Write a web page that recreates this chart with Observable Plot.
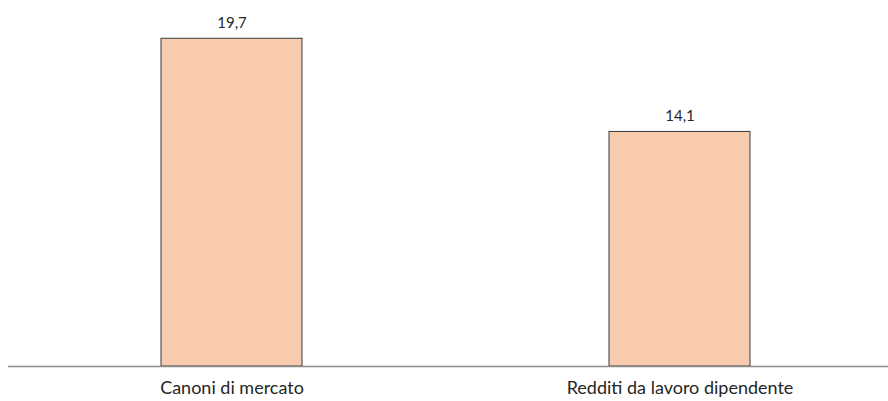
<!DOCTYPE html>
<html><head><meta charset="utf-8">
<script src="https://cdn.jsdelivr.net/npm/d3@7"></script>
<script src="https://cdn.jsdelivr.net/npm/@observablehq/plot@0.6"></script>
<style>body{margin:0;background:#fff}</style>
</head><body><div id="chart"></div>
<script>
const categories = ["Canoni di mercato", "Redditi da lavoro dipendente"];
const values = [19.7, 14.1];
const labels = ["19,7", "14,1"];
const data = categories.map((c, i) => ({cat: c, v: values[i], label: labels[i]}));
const font = "Lato, 'Open Sans', sans-serif";
const chart = Plot.plot({
  width: 888, height: 401,
  marginTop: 0, marginBottom: 35, marginLeft: 8, marginRight: 0,
  style: {fontFamily: font, background: "#fff"},
  x: {domain: categories, range: [8, 902], paddingInner: 0.6853, paddingOuter: 0.3404, label: null, axis: null},
  y: {domain: [0, 22], axis: null},
  marks: [
    Plot.barY(data, {x: "cat", y: "v", fill: "#F8CBAD", stroke: "#3a3a3a", strokeWidth: 1}),
    Plot.ruleY([0], {stroke: "#8c8c8c", strokeWidth: 1.3}),
    Plot.text(data, {x: "cat", y: "v", text: "label", dy: -16, fill: "#262626", fontSize: 15, fontFamily: font}),
    Plot.axisX({tickSize: 0, tickPadding: 15, fontSize: 18, color: "#262626", label: null, fontFamily: font})
  ]
});
document.getElementById("chart").append(chart);
</script></body></html>
